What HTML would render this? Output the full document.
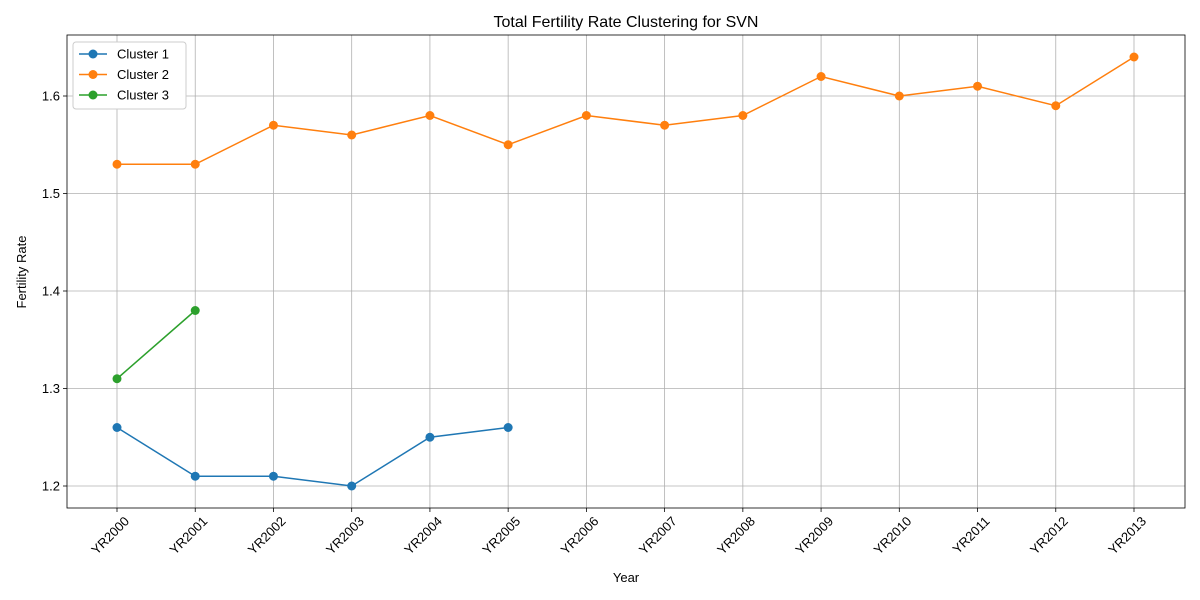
<!DOCTYPE html>
<html><head><meta charset="utf-8"><style>
body{margin:0;background:#fff;}
svg{display:block;font-family:"Liberation Sans","DejaVu Sans",sans-serif;}
</style></head><body>
<svg id="chart" width="1200" height="600"></svg>
<script>
const categories=["YR2000","YR2001","YR2002","YR2003","YR2004","YR2005","YR2006","YR2007","YR2008","YR2009","YR2010","YR2011","YR2012","YR2013"];
const cluster1=[1.26,1.21,1.21,1.20,1.25,1.26];
const cluster2=[1.53,1.53,1.57,1.56,1.58,1.55,1.58,1.57,1.58,1.62,1.60,1.61,1.59,1.64];
const cluster3=[1.31,1.38];
const yTicks=[1.2,1.3,1.4,1.5,1.6];
const seriesNames=["Cluster 1","Cluster 2","Cluster 3"];
const colors=["#1f77b4","#ff7f0e","#2ca02c"];

const NS="http://www.w3.org/2000/svg";
const svg=document.getElementById('chart');
const L=67,R=1185,T=35,B=508;
const x=i=>117+i*(1134-117)/(categories.length-1);
const y=v=>486-(v-1.2)*975;
function mk(tag,attrs,parent){const e=document.createElementNS(NS,tag);for(const k in attrs)e.setAttribute(k,attrs[k]);(parent||svg).appendChild(e);return e;}

categories.forEach((c,i)=>{
  const g=mk('line',{x1:x(i),x2:x(i),y1:T,y2:B,stroke:'#b0b0b0','stroke-width':0.8});
  
  
  mk('line',{x1:x(i),x2:x(i),y1:B,y2:B+4,stroke:'#000','stroke-width':0.8});
  const ax=x(i)+13, ay=B+14;
  const t=mk('text',{x:ax,y:ay,'font-size':13,'text-anchor':'end',transform:`rotate(-45 ${ax} ${ay})`});
  t.textContent=c;
  
  
});
yTicks.forEach(v=>{
  const g=mk('line',{x1:L,x2:R,y1:y(v),y2:y(v),stroke:'#b0b0b0','stroke-width':0.8});
  
  
  mk('line',{x1:L-4,x2:L,y1:y(v),y2:y(v),stroke:'#000','stroke-width':0.8});
  const t=mk('text',{x:L-7,y:y(v)+4.5,'font-size':13,'text-anchor':'end'});
  t.textContent=v.toFixed(1);
  
  
});
const frame=mk('rect',{x:L,y:T,width:R-L,height:B-T,fill:'none',stroke:'#000','stroke-width':0.8});



[cluster1,cluster2,cluster3].forEach((s,si)=>{
  const p=mk('polyline',{points:s.map((v,i)=>x(i)+','+y(v)).join(' '),fill:'none',stroke:colors[si],'stroke-width':1.5});
  
  
  s.forEach((v,i)=>{
    const c=mk('circle',{cx:x(i),cy:y(v),r:4.5,fill:colors[si]});
    
    
  });
});

let t=mk('text',{x:626,y:27,'font-size':16,'text-anchor':'middle'});t.textContent='Total Fertility Rate Clustering for SVN';


t=mk('text',{x:626,y:582,'font-size':13,'text-anchor':'middle'});t.textContent='Year';


t=mk('text',{x:26,y:272,'font-size':13,'text-anchor':'middle',transform:'rotate(-90 26 272)'});t.textContent='Fertility Rate';



const lg=mk('g',{});


mk('rect',{x:73,y:42,width:113,height:67,rx:3,fill:'#fff',stroke:'#ccc','stroke-width':1},lg);
seriesNames.forEach((n,i)=>{
  const yy=54+i*20.5;
  const e=mk('g',{},lg);
  
  
  mk('line',{x1:79,x2:107,y1:yy,y2:yy,stroke:colors[i],'stroke-width':1.5},e);
  mk('circle',{cx:93,cy:yy,r:4.5,fill:colors[i]},e);
  const tx=mk('text',{x:117,y:yy+4.5,'font-size':13},e);tx.textContent=n;
});
</script>
</body></html>
